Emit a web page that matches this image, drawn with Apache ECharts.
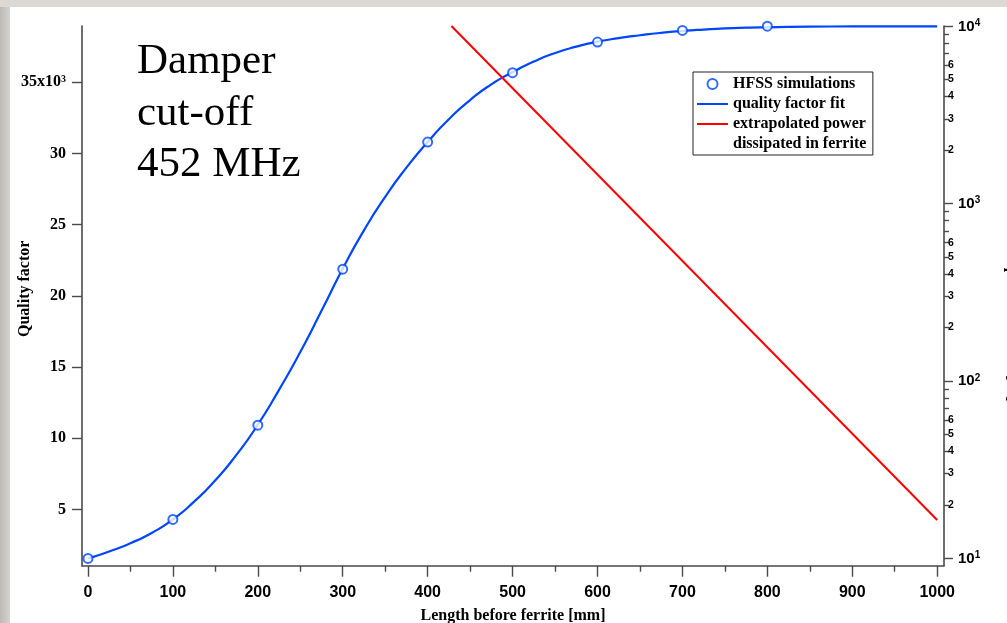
<!DOCTYPE html>
<html><head><meta charset="utf-8">
<script src="https://cdn.jsdelivr.net/npm/echarts@6/dist/echarts.min.js"></script>
<style>html,body{margin:0;padding:0;background:#fff}#c{width:1007px;height:623px}</style>
</head><body><div id="c"></div>
<script>
// HFSS simulation points (length in mm, quality factor)
const hfssLength = [0, 100, 200, 300, 400, 500, 600, 700, 800];
const hfssQ = [1560, 4300, 10920, 21870, 30800, 35670, 37820, 38640, 38940];
// quality factor fit curve
const fitLength = [0, 25, 50, 75, 100, 125, 150, 175, 200, 225, 250, 275, 300, 325, 350, 375, 400, 425, 450, 475, 500,
                   525, 550, 575, 600, 625, 650, 675, 700, 725, 750, 775, 800, 850, 900, 950, 1000];
const fitQ = [1560, 2050, 2630, 3350, 4300, 5550, 7050, 8850, 10950, 13400, 16050, 18950, 21900, 24600, 26950, 29000, 30800, 32400, 33750, 34850, 35700,
              36450, 37050, 37500, 37850, 38100, 38300, 38470, 38600, 38700, 38780, 38830, 38860, 38900, 38920, 38930, 38930];
// extrapolated power dissipated in ferrite [W]
const powerLength = [428, 1000];
const powerW = [10000, 16.4];
// tick values
const xTicks = [0, 100, 200, 300, 400, 500, 600, 700, 800, 900, 1000];
const xMinorTicks = [50, 150, 250, 350, 450, 550, 650, 750, 850, 950];
const qTicks = [5000, 10000, 15000, 20000, 25000, 30000, 35000];
const powerMajorTicks = [10, 100, 1000, 10000];
const powerMinorTicks = [20, 30, 40, 50, 60, 70, 80, 90, 200, 300, 400, 500, 600, 700, 800, 900, 2000, 3000, 4000, 5000, 6000, 7000, 8000, 9000];
const powerLabels = [10, 20, 30, 40, 50, 60, 100, 200, 300, 400, 500, 600, 1000, 2000, 3000, 4000, 5000, 6000, 10000];

const BLUE = '#0046ff', RED = '#ff0000', AX = '#4a4a4a';
const serifB = {fontFamily: 'Liberation Serif', fontWeight: 'bold', color: '#000'};
const sansB = {fontFamily: 'Liberation Sans', fontWeight: 'bold', color: '#000'};
const LINE_ICON = 'path://M0,0H31V2H0Z';

const chart = echarts.init(document.getElementById('c'), null, {renderer: 'canvas'});
chart.setOption({
  backgroundColor: '#dcd8d4',
  animation: false,
  graphic: [
    {type: 'rect', z: -10, shape: {x: 10, y: 7, width: 997, height: 616}, style: {fill: '#ffffff'}},
    {type: 'rect', z: -10, shape: {x: 0, y: 7, width: 10, height: 616},
     style: {fill: new echarts.graphic.LinearGradient(0, 0, 1, 0, [{offset: 0, color: '#bdb9b5'}, {offset: 1, color: '#d6d2ce'}])}},
    {type: 'text', z: 50, left: 137, top: 36,
     style: {text: 'Damper\ncut-off\n452 MHz', font: '43px "Liberation Serif"', lineHeight: 51.5, fill: '#000'}},
    {type: 'text', z: 50, x: 733, y: 144,
     style: {text: 'dissipated in ferrite', font: 'bold 16px "Liberation Serif"', verticalAlign: 'middle', fill: '#000'}}
  ],
  grid: {left: 82, right: 63, top: 26, bottom: 57.3, containLabel: false, outerBoundsMode: 'none'},
  legend: {
    orient: 'vertical', left: 693, top: 72, padding: [2, 7, 21, 4],
    itemWidth: 31, itemHeight: 10, itemGap: 0, selectedMode: false,
    borderColor: '#222', borderWidth: 1, backgroundColor: '#fff',
    textStyle: Object.assign({fontSize: 16, lineHeight: 20}, serifB),
    data: [{name: 'HFSS simulations', icon: 'emptyCircle'},
           {name: 'quality factor fit', icon: LINE_ICON},
           {name: 'extrapolated power', icon: LINE_ICON}]
  },
  xAxis: [
    {type: 'value', min: -7, max: 1008, position: 'bottom',
     name: 'Length before ferrite [mm]', nameLocation: 'middle', nameGap: 42, nameMoveOverlap: false,
     nameTextStyle: Object.assign({fontSize: 16}, serifB),
     splitLine: {show: false},
     axisLine: {show: true, onZero: false, lineStyle: {color: AX, width: 1.6}},
     axisTick: {show: true, customValues: xTicks, length: 11, lineStyle: {color: AX, width: 1.4}},
     axisLabel: Object.assign({customValues: xTicks, margin: 19, fontSize: 16, formatter: function (v) { return String(v); }}, sansB)},
    {type: 'value', min: -7, max: 1008, position: 'bottom', offset: 0,
     splitLine: {show: false}, axisLine: {show: false, onZero: false},
     axisTick: {show: true, customValues: xMinorTicks, length: 6, lineStyle: {color: AX, width: 1.4}},
     axisLabel: {show: false}}
  ],
  yAxis: [
    {type: 'value', min: 1050, max: 38950, position: 'left',
     name: 'Quality factor', nameLocation: 'middle', nameGap: 49, nameRotate: 90, nameMoveOverlap: false,
     nameTextStyle: Object.assign({fontSize: 16, padding: [0, 0, 0, 14]}, serifB),
     splitLine: {show: false},
     axisLine: {show: true, onZero: false, lineStyle: {color: AX, width: 1.6}},
     axisTick: {show: true, customValues: qTicks, length: 10, lineStyle: {color: AX, width: 1.4}},
     axisLabel: {customValues: qTicks, margin: 16,
       formatter: function (v) { return v === 35000 ? '{a|35x10}{s|3}' : '{a|' + Math.round(v / 1000) + '}'; },
       rich: {a: Object.assign({fontSize: 16, lineHeight: 16, verticalAlign: 'bottom'}, serifB),
              s: Object.assign({fontSize: 10, lineHeight: 10, verticalAlign: 'top'}, serifB)}}},
    {type: 'log', logBase: 10, min: 9.07, max: 10000, position: 'right',
     name: 'Power dissipated in ferrite [W]', nameLocation: 'middle', nameGap: 60, nameRotate: -90, nameMoveOverlap: false,
     nameTextStyle: Object.assign({fontSize: 16}, serifB),
     splitLine: {show: false},
     axisLine: {show: true, onZero: false, lineStyle: {color: AX, width: 1.6}},
     axisTick: {show: true, customValues: powerMajorTicks, length: 9, lineStyle: {color: AX, width: 1.4}},
     axisLabel: {customValues: powerLabels, margin: 4,
       formatter: function (v) {
         const e = Math.floor(Math.log10(v) + 1e-9);
         const m = Math.round(v / Math.pow(10, e));
         return m === 1 ? '{M|10}{E|' + e + '}' : '{m|' + m + '}';
       },
       rich: {M: Object.assign({fontSize: 15, lineHeight: 16, padding: [6, 0, 0, 10], verticalAlign: 'bottom'}, sansB),
              E: Object.assign({fontSize: 10, lineHeight: 11, verticalAlign: 'top'}, sansB),
              m: Object.assign({fontSize: 10.5, lineHeight: 12}, sansB)}}},
    {type: 'log', logBase: 10, min: 9.07, max: 10000, position: 'right', offset: 0,
     splitLine: {show: false}, axisLine: {show: false, onZero: false},
     axisTick: {show: true, customValues: powerMinorTicks, length: 5, lineStyle: {color: AX, width: 1.4}},
     axisLabel: {show: false}}
  ],
  series: [
    {name: 'quality factor fit', type: 'line', xAxisIndex: 0, yAxisIndex: 0, z: 3,
     data: fitLength.map((x, i) => [x, fitQ[i]]), smooth: 0.6, symbol: 'none',
     lineStyle: {color: BLUE, width: 2.2}, itemStyle: {color: BLUE}},
    {name: 'HFSS simulations', type: 'scatter', xAxisIndex: 0, yAxisIndex: 0, z: 4,
     data: hfssLength.map((x, i) => [x, hfssQ[i]]), symbol: 'emptyCircle', symbolSize: 9,
     itemStyle: {color: BLUE, borderColor: BLUE, borderWidth: 2}},
    {name: 'extrapolated power', type: 'line', xAxisIndex: 0, yAxisIndex: 1, z: 5,
     data: powerLength.map((x, i) => [x, powerW[i]]), symbol: 'none',
     lineStyle: {color: RED, width: 2}, itemStyle: {color: RED}}
  ]
});
</script></body></html>
